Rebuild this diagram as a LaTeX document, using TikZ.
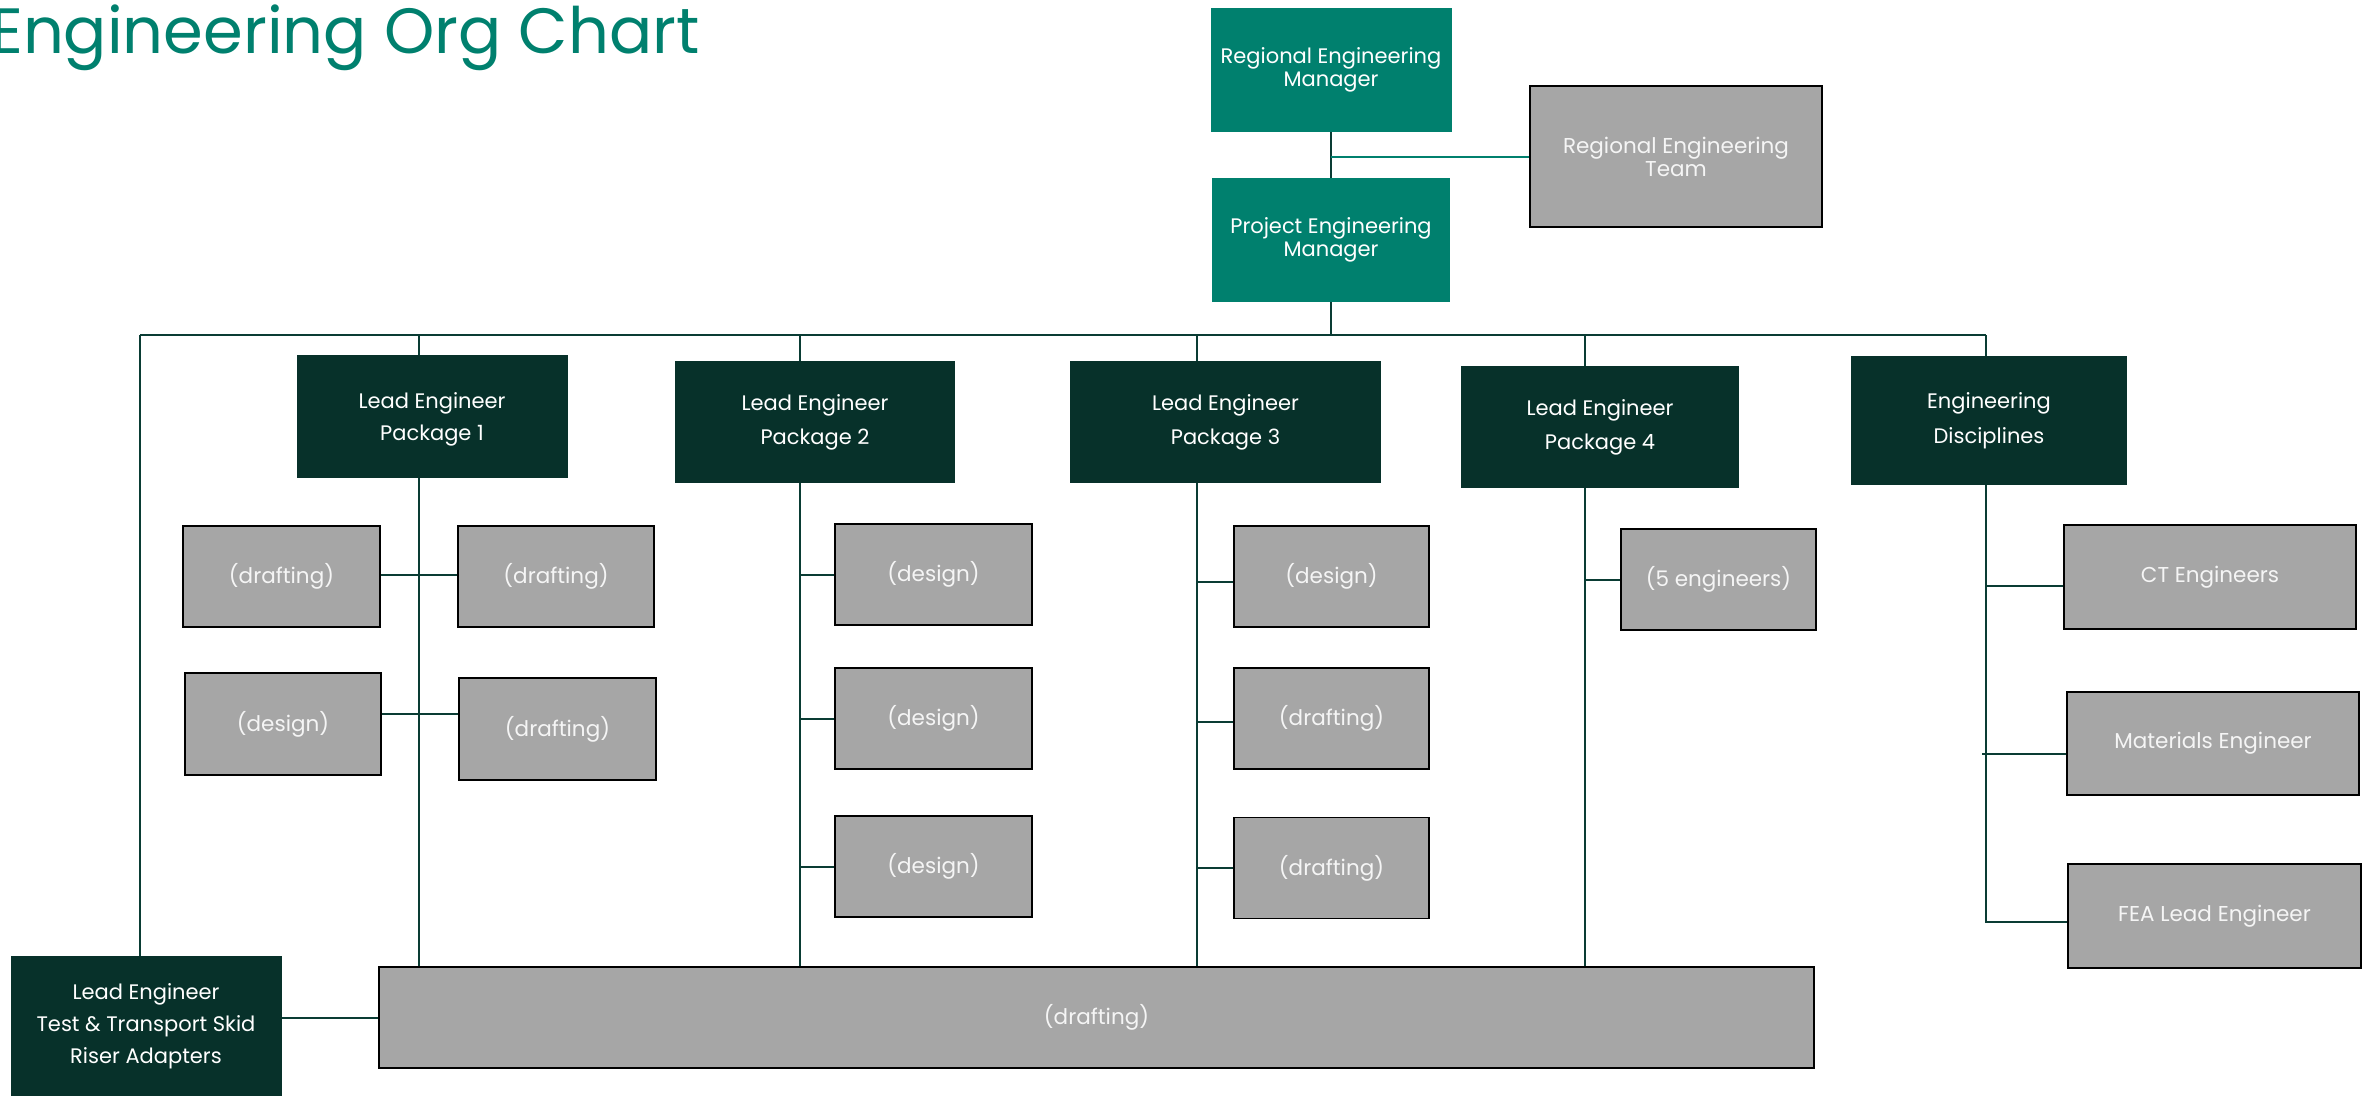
\documentclass[tikz,border=0pt]{standalone}
\usepackage{fontspec}
\setmainfont{Poppins}
\usetikzlibrary{backgrounds}
\definecolor{tealc}{RGB}{0,128,110}
\definecolor{dkgreen}{RGB}{7,49,42}
\definecolor{gboxc}{RGB}{166,166,166}
\definecolor{linec}{RGB}{10,60,52}
\begin{document}
\begin{tikzpicture}[x=1pt,y=-1pt,
  tealbox/.style={fill=tealc,draw=none,text=white,align=center,inner sep=0pt,outer sep=0pt,font=\fontsize{21}{23}\selectfont},
  darkbox/.style={fill=dkgreen,draw=none,text=white,align=center,inner sep=0pt,outer sep=0pt,font=\fontsize{21}{32}\selectfont},
  graybox/.style={fill=gboxc,draw=black,line width=1.6pt,text=white!96!black,align=center,inner sep=0pt,outer sep=0pt,font=\fontsize{21.5}{23}\selectfont},
  conn/.style={draw=linec,line width=2pt},
  tconn/.style={draw=tealc,line width=2pt}]
\useasboundingbox (0,0) rectangle (2369,1095);

\node[anchor=base west,inner sep=0pt,text=tealc,font=\fontsize{64}{70}\selectfont] (title) at (-10,53) {Engineering Org Chart};

% top managers
\node[tealbox,minimum width=241,minimum height=124] (rem) at (1331,69.5) {Regional Engineering\\Manager};
\node[tealbox,minimum width=238,minimum height=124] (pem) at (1331,240) {Project Engineering\\Manager};
\node[graybox,minimum width=292,minimum height=141] (team) at (1676,156.5) {Regional Engineering\\Team};

% lead engineers
\node[darkbox,minimum width=271,minimum height=123,text depth=-3pt] (p1) at (432,416.5) {Lead Engineer\\Package 1};
\node[darkbox,minimum width=280,minimum height=122] (p2) at (815,422) {\raisebox{-3pt}{\shortstack{Lead Engineer\\[10pt]Package 2}}};
\node[darkbox,minimum width=311,minimum height=122] (p3) at (1225.5,422) {\raisebox{-3pt}{\shortstack{Lead Engineer\\[10pt]Package 3}}};
\node[darkbox,minimum width=278,minimum height=122] (p4) at (1600,427) {\raisebox{-3pt}{\shortstack{Lead Engineer\\[10pt]Package 4}}};
\node[darkbox,minimum width=276,minimum height=129] (ed) at (1989,420.5) {\raisebox{-3pt}{\shortstack{Engineering\\[10pt]Disciplines}}};

% package 1 staff
\node[graybox,minimum width=197,minimum height=101] (p1a) at (281.5,576.5) {(drafting)};
\node[graybox,minimum width=196,minimum height=101] (p1b) at (556,576.5) {(drafting)};
\node[graybox,minimum width=196,minimum height=102] (p1c) at (283,724) {(design)};
\node[graybox,minimum width=197,minimum height=102] (p1d) at (557.5,729) {(drafting)};

% package 2 staff
\node[graybox,minimum width=197,minimum height=101] (p2a) at (933.5,574.5) {(design)};
\node[graybox,minimum width=197,minimum height=101] (p2b) at (933.5,718.5) {(design)};
\node[graybox,minimum width=197,minimum height=101] (p2c) at (933.5,866.5) {(design)};

% package 3 staff
\node[graybox,minimum width=195,minimum height=101] (p3a) at (1331.5,576.5) {(design)};
\node[graybox,minimum width=195,minimum height=101] (p3b) at (1331.5,718.5) {(drafting)};
\node[graybox,minimum width=195,minimum height=101] (p3c) at (1331.5,868) {(drafting)};

% package 4 staff
\node[graybox,minimum width=195,minimum height=101] (p4a) at (1718.5,579.5) {(5 engineers)};

% disciplines
\node[graybox,minimum width=292,minimum height=104] (ct) at (2210,577) {CT Engineers};
\node[graybox,minimum width=292,minimum height=103] (mat) at (2213,743.5) {Materials Engineer};
\node[graybox,minimum width=293,minimum height=104] (fea) at (2214.5,916) {FEA Lead Engineer};

% bottom
\node[graybox,minimum width=1435,minimum height=101] (bot) at (1096.5,1017.5) {(drafting)};
\node[darkbox,minimum width=271,minimum height=140] (lt) at (146,1026) {Lead Engineer\\Test \& Transport Skid\\Riser Adapters};

\coordinate (busL) at (140,335);
\coordinate (busR) at (1986,335);
\coordinate (d1) at (419,335);
\coordinate (d2) at (800,335);
\coordinate (d3) at (1197,335);
\coordinate (d4) at (1585,335);

\begin{pgfonlayer}{background}
\draw[conn] (rem) -- (pem);
\draw[tconn] (rem.south |- team.west) -- (team.west);
\draw[conn] (pem) -- (pem.south |- busL);
\draw[conn] (busL) -- (busR);
\draw[conn] (busL) -- (busL |- lt.north);
\draw[conn] (d1) -- (d1 |- bot.north);
\draw[conn] (d2) -- (d2 |- bot.north);
\draw[conn] (d3) -- (d3 |- bot.north);
\draw[conn] (d4) -- (d4 |- bot.north);
\draw[conn] (busR) -- ([yshift=-6pt]busR |- fea.west) -- ([yshift=-6pt]fea.west);
\draw[conn] ([yshift=-9pt]busR |- ct.west) -- ([yshift=-9pt]ct.west);
\draw[conn] ([yshift=-10pt,xshift=-4pt]busR |- mat.west) -- ([yshift=-10pt]mat.west);
\draw[conn] ([yshift=2pt]p1a.east) -- ([yshift=2pt]p1b.west);
\draw[conn] ([yshift=10pt]p1c.east) -- ([yshift=10pt]p1c.east -| p1d.west);
\draw[conn] (d2 |- p2a.west) -- (p2a.west);
\draw[conn] (d2 |- p2b.west) -- (p2b.west);
\draw[conn] (d2 |- p2c.west) -- (p2c.west);
\draw[conn] ([yshift=-5pt]d3 |- p3a.west) -- ([yshift=-5pt]p3a.west);
\draw[conn] ([yshift=-3pt]d3 |- p3b.west) -- ([yshift=-3pt]p3b.west);
\draw[conn] (d3 |- p3c.west) -- (p3c.west);
\draw[conn] (d4 |- p4a.west) -- (p4a.west);
\draw[conn] (lt.east |- bot.west) -- (bot.west);
\end{pgfonlayer}
\end{tikzpicture}
\end{document}
